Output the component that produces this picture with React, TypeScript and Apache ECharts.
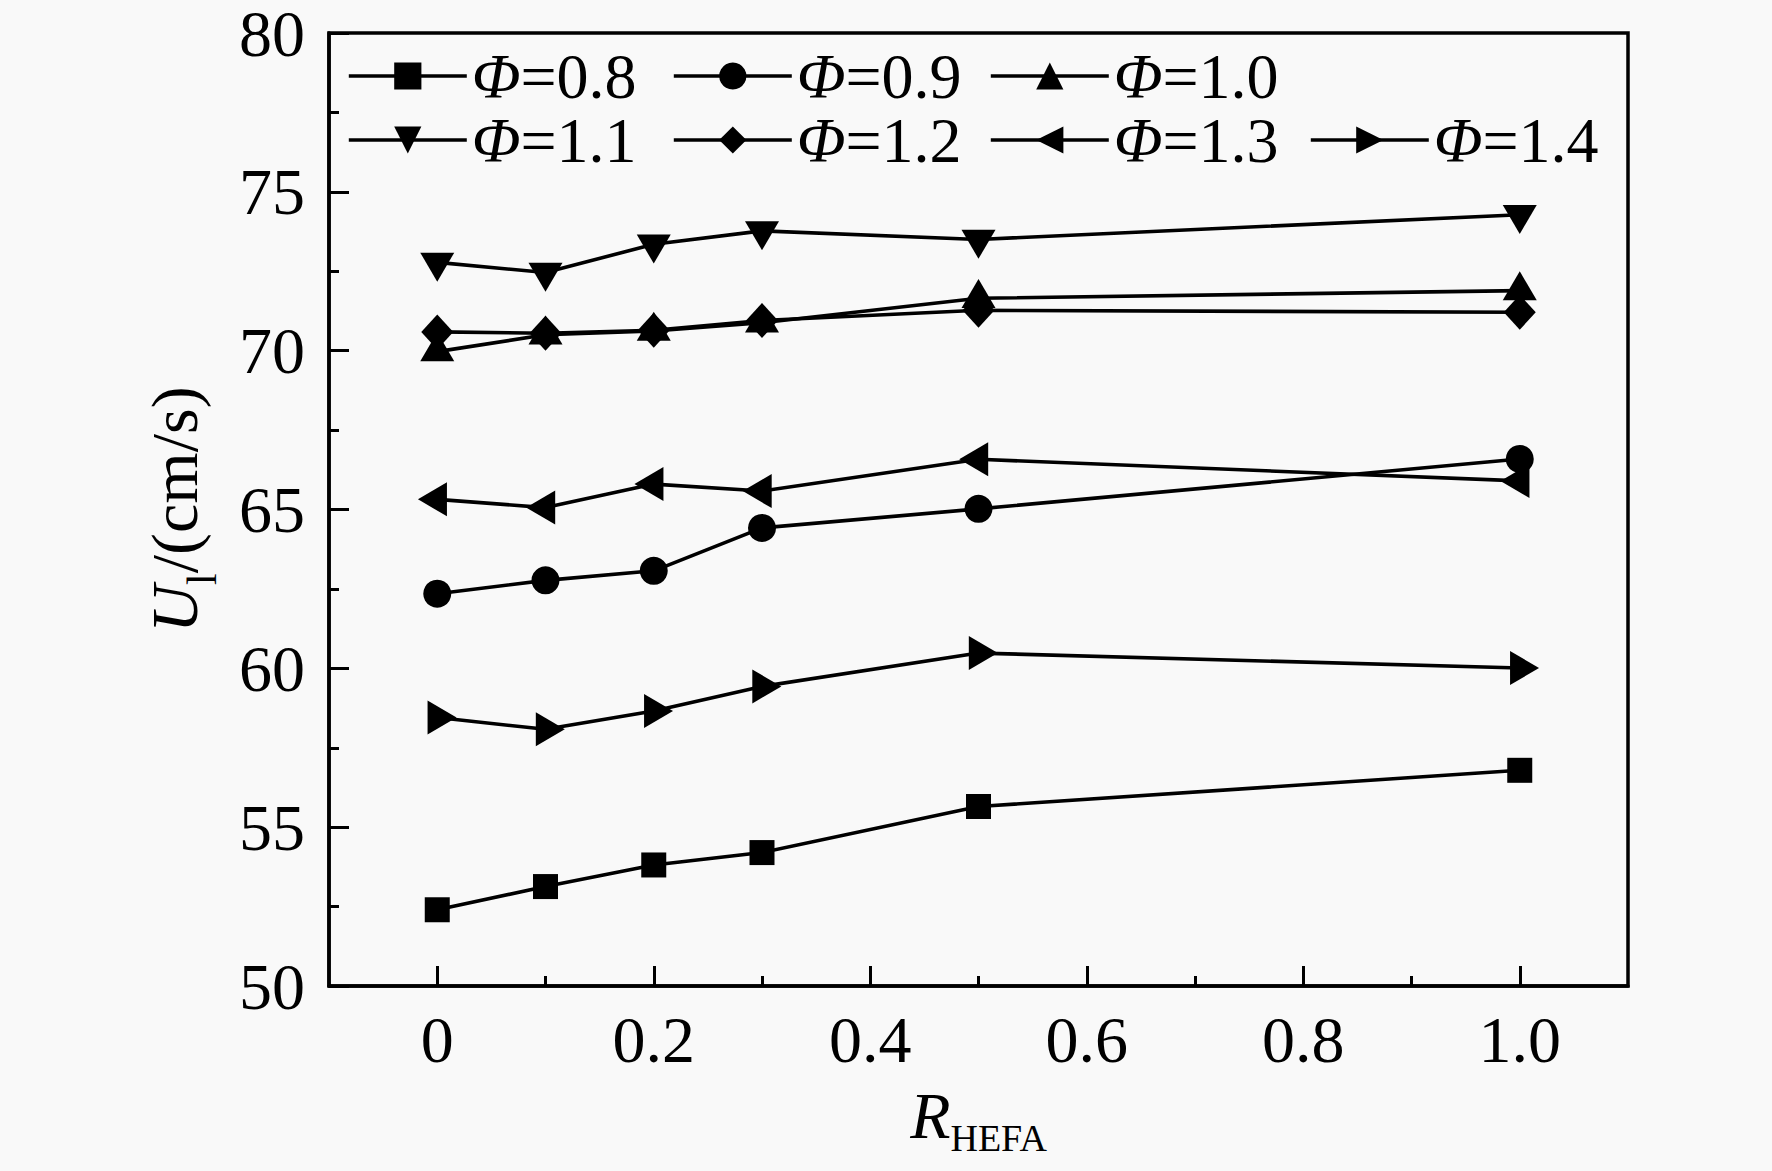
import React, { useEffect, useRef } from 'react';
import * as echarts from 'echarts';

// ---- data ----
const rHefa = [0, 0.1, 0.2, 0.3, 0.5, 1.0];
const phiNames = ['Φ=0.8', 'Φ=0.9', 'Φ=1.0', 'Φ=1.1', 'Φ=1.2', 'Φ=1.3', 'Φ=1.4'];
const uPhi08 = [52.4, 53.13, 53.81, 54.2, 55.65, 56.79];
const uPhi09 = [62.35, 62.77, 63.07, 64.42, 65.02, 66.59];
const uPhi10 = [69.97, 70.5, 70.62, 70.88, 71.65, 71.89];
const uPhi11 = [72.78, 72.46, 73.35, 73.77, 73.5, 74.28];
const uPhi12 = [70.59, 70.55, 70.64, 70.95, 71.27, 71.21];
const uPhi13 = [65.32, 65.06, 65.8, 65.58, 66.58, 65.9];
const uPhi14 = [58.45, 58.08, 58.66, 59.43, 60.48, 60.01];

const xMajorTicks = [0, 0.2, 0.4, 0.6, 0.8, 1.0];
const xMinorTicks = [0.1, 0.3, 0.5, 0.7, 0.9];
const yMin = 50;
const yMax = 80;
const yStep = 5;

const FONT = '"Liberation Serif", "Times New Roman", Times, serif';
const FS = 66;
const SUB = 38;

export default function App() {
  const ref = useRef<HTMLDivElement>(null);

  useEffect(() => {
    if (!ref.current) return;
    const chart = echarts.init(ref.current, null, { renderer: 'svg' });

    const valuesList = [uPhi08, uPhi09, uPhi10, uPhi11, uPhi12, uPhi13, uPhi14];
    const styles: any[] = [
      { symbol: 'rect', size: 25, rotate: 0, offset: [0, 0] },
      { symbol: 'circle', size: 28, rotate: 0, offset: [0, 0] },
      { symbol: 'triangle', size: [34, 29], rotate: 0, offset: [0, -4.8] },
      { symbol: 'triangle', size: [34, 29], rotate: 180, offset: [0, 4.8] },
      { symbol: 'diamond', size: [32, 35], rotate: 0, offset: [0, 0] },
      { symbol: 'triangle', size: [34, 29], rotate: 90, offset: [-4.8, 0] },
      { symbol: 'triangle', size: [34, 29], rotate: -90, offset: [4.8, 0] },
    ];

    const series = valuesList.map((vals, i) => ({
      name: phiNames[i],
      type: 'line',
      xAxisIndex: 0,
      yAxisIndex: 0,
      data: rHefa.map((x, j) => [x, vals[j]]),
      symbol: styles[i].symbol,
      symbolSize: styles[i].size,
      symbolRotate: styles[i].rotate,
      symbolOffset: styles[i].offset,
      showAllSymbol: true,
      lineStyle: { color: '#000', width: 3.6 },
      itemStyle: { color: '#000' },
      emphasis: { disabled: true },
      z: 3,
    }));

    const legendLeft = [347, 672, 989, 347, 672, 989, 1309];
    const legendTop = [44, 44, 44, 108, 108, 108, 108];
    const legends = phiNames.map((n, i) => ({
      data: [n],
      left: legendLeft[i],
      top: legendTop[i],
      orient: 'horizontal',
      padding: 0,
      itemGap: 0,
      itemWidth: 118,
      itemHeight: 34,
      selectedMode: false,
      lineStyle: { color: '#000', width: 3.6 },
      formatter: (name: string) => `{i|Φ}{t|${name.slice(1)}}`,
      textStyle: {
        color: '#000',
        fontFamily: FONT,
        fontSize: 64,
        lineHeight: 64,
        rich: {
          i: { fontFamily: FONT, fontStyle: 'italic', fontSize: 64, lineHeight: 64, color: '#000' },
          t: { fontFamily: FONT, fontSize: 64, lineHeight: 64, color: '#000' },
        },
      },
    }));

    const option: any = {
      animation: false,
      backgroundColor: '#f9f9f9',
      grid: {
        left: 329,
        top: 33,
        right: 144,
        bottom: 185,
        show: true,
        borderColor: '#000',
        borderWidth: 3.5,
        backgroundColor: 'transparent',
        outerBoundsMode: 'none',
        containLabel: false,
      },
      legend: legends,
      xAxis: [
        {
          type: 'value',
          position: 'bottom',
          min: -0.1,
          max: 1.1,
          name: '{r|R}{s|HEFA}',
          nameLocation: 'middle',
          nameGap: 96,
          nameTextStyle: {
            color: '#000',
            fontFamily: FONT,
            rich: {
              r: { fontFamily: FONT, fontStyle: 'italic', fontSize: FS, lineHeight: FS, verticalAlign: 'top', color: '#000' },
              s: { fontFamily: FONT, fontSize: SUB, lineHeight: 20, verticalAlign: 'top', padding: [37, 0, 0, 0], color: '#000' },
            },
          },
          axisLine: { show: true, onZero: false, lineStyle: { color: '#000', width: 3.5 } },
          axisTick: {
            show: true,
            inside: true,
            length: 20,
            customValues: xMajorTicks,
            lineStyle: { color: '#000', width: 3 },
          },
          axisLabel: {
            show: true,
            customValues: xMajorTicks,
            margin: 20,
            color: '#000',
            fontFamily: FONT,
            fontSize: FS,
            lineHeight: FS,
            formatter: (v: number) => (v === 0 ? '0' : v.toFixed(1)),
          },
          splitLine: { show: false },
        },
        {
          type: 'value',
          position: 'bottom',
          min: -0.1,
          max: 1.1,
          axisLine: { show: false },
          axisTick: {
            show: true,
            inside: true,
            length: 10,
            customValues: xMinorTicks,
            lineStyle: { color: '#000', width: 3 },
          },
          axisLabel: { show: false },
          splitLine: { show: false },
        },
      ],
      yAxis: {
        type: 'value',
        min: yMin,
        max: yMax,
        interval: yStep,
        name: '{u|U}{s|l}{t|/(cm/s)}',
        nameLocation: 'middle',
        nameRotate: 90,
        nameGap: 122,
        nameTextStyle: {
          color: '#000',
          fontFamily: FONT,
          rich: {
            u: { fontFamily: FONT, fontStyle: 'italic', fontSize: FS, lineHeight: FS, verticalAlign: 'top', color: '#000' },
            s: { fontFamily: FONT, fontSize: 42, lineHeight: 20, verticalAlign: 'top', padding: [40, 0, 0, 0], color: '#000' },
            t: { fontFamily: FONT, fontSize: FS, lineHeight: FS, verticalAlign: 'top', color: '#000' },
          },
        },
        axisLine: { show: true, onZero: false, lineStyle: { color: '#000', width: 3.5 } },
        axisTick: { show: true, inside: true, length: 20, lineStyle: { color: '#000', width: 3 } },
        minorTick: { show: true, splitNumber: 2, length: 10, lineStyle: { color: '#000', width: 3 } },
        axisLabel: {
          margin: 24,
          color: '#000',
          fontFamily: FONT,
          fontSize: FS,
          lineHeight: 56,
        },
        splitLine: { show: false },
        minorSplitLine: { show: false },
      },
      series,
    };

    chart.setOption(option);
    return () => {
      chart.dispose();
    };
  }, []);

  return (
    <div
      ref={ref}
      style={{ position: 'absolute', left: 0, top: 0, width: 1772, height: 1171 }}
    />
  );
}
